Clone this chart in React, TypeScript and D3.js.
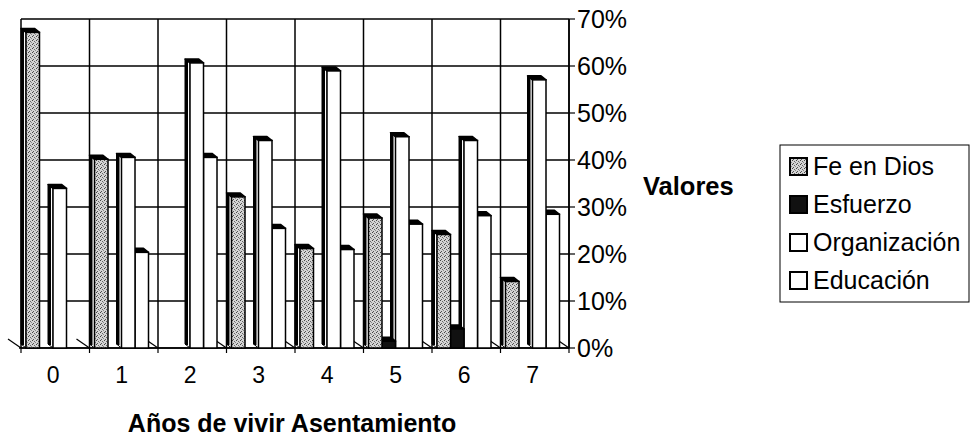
import React from "react";
import * as d3 from "d3";

const categories = ["0", "1", "2", "3", "4", "5", "6", "7"];
const seriesNames = ["Fe en Dios", "Esfuerzo", "Organización", "Educación"];
const feEnDios = [0.68, 0.41, 0, 0.33, 0.22, 0.285, 0.25, 0.15];
const esfuerzo = [0, 0, 0, 0, 0, 0.023, 0.049, 0];
const organizacion = [0.348, 0.414, 0.615, 0.45, 0.598, 0.458, 0.45, 0.579];
const educacion = [0, 0.212, 0.414, 0.263, 0.218, 0.272, 0.29, 0.293];
const yTicks = [0, 0.1, 0.2, 0.3, 0.4, 0.5, 0.6, 0.7];

const seriesValues = [feEnDios, esfuerzo, organizacion, educacion];
const FONT = "'Liberation Sans', Arial, Helvetica, sans-serif";

export default function App() {
  const x = d3.scaleBand().domain(categories).range([21, 569]).padding(0);
  const inner = d3.scaleBand().domain(seriesNames).range([5, 59]).padding(0);
  const y = d3.scaleLinear().domain([0, 0.7]).range([348, 19]);
  const fmt = d3.format(".0%");
  const bw = inner.bandwidth();
  const dx = 5;
  const dy = 4;
  const wallL = x.range()[0];
  const wallR = x.range()[1];
  const base = y(0);

  const fills = ["url(#stip)", "#111", "#fff", "#fff"];
  const sideFills = ["#fff", "#111", "#fff", "#fff"];

  const boundaries = categories.map((c) => x(c) as number).concat([wallR]);

  const bars: React.ReactNode[] = [];
  for (let ci = categories.length - 1; ci >= 0; ci--) {
    for (let si = seriesNames.length - 1; si >= 0; si--) {
      const v = seriesValues[si][ci];
      if (!v) continue;
      const fx = (x(categories[ci]) as number) + (inner(seriesNames[si]) as number);
      const topBack = y(v);
      const topFront = topBack + dy;
      const side = `M${fx},${topFront} L${fx - dx},${topBack} L${fx - dx},${base - dy} L${fx},${base} Z`;
      const top = `M${fx},${topFront} L${fx - dx},${topBack} L${fx + bw - dx},${topBack} L${fx + bw},${topFront} Z`;
      bars.push(
        <g key={`${ci}-${si}`}>
          <path d={side} fill={sideFills[si]} stroke="#000" strokeWidth={1} />
          <line x1={fx - dx + 1.5} x2={fx - dx + 1.5} y1={topBack} y2={base - dy + 1} stroke="#000" strokeWidth={3} />
          <path d={top} fill="#000" stroke="#000" strokeWidth={1.5} strokeLinejoin="round" />
          <rect x={fx} y={topFront} width={bw} height={base - topFront} fill={fills[si]} stroke="#000" strokeWidth={1.5} />
        </g>
      );
    }
  }

  const legendY = [175, 213, 251, 289];

  return (
    <svg width={971} height={437} style={{ position: "absolute", left: 0, top: 0, background: "#fff" }}>
      <defs>
        <pattern id="stip" width={4} height={4} patternUnits="userSpaceOnUse">
          <rect width={4} height={4} fill="#d4d4d4" />
          <rect x={0} y={0} width={1} height={1} fill="#444" />
          <rect x={2} y={1} width={1} height={1} fill="#666" />
          <rect x={1} y={3} width={1} height={1} fill="#555" />
          <rect x={3} y={2} width={1} height={1} fill="#888" />
        </pattern>
      </defs>
      <rect width={971} height={437} fill="#fff" />
      {yTicks.map((t) => (
        <line key={`h${t}`} x1={wallL} x2={wallR} y1={y(t)} y2={y(t)} stroke="#000" strokeWidth={1.5} />
      ))}
      {boundaries.map((b, i) => (
        <line key={`v${i}`} x1={b} x2={b} y1={y(0.7)} y2={base} stroke="#000" strokeWidth={1.5} />
      ))}
      <line x1={wallL - 2} x2={wallR} y1={base} y2={base} stroke="#000" strokeWidth={1.5} />
      {boundaries.map((b, i) => (
        <g key={`f${i}`}>
          <line x1={b - 13} y1={base - 9} x2={b} y2={base} stroke="#000" strokeWidth={1.2} />
          <line x1={b} y1={base} x2={b} y2={base + 5} stroke="#000" strokeWidth={1.2} />
        </g>
      ))}
      {bars}
      <line x1={wallR} x2={wallR} y1={y(0.7)} y2={base} stroke="#000" strokeWidth={1.5} />
      {yTicks.map((t) => (
        <g key={`t${t}`}>
          <line x1={wallR} x2={wallR + 6} y1={y(t)} y2={y(t)} stroke="#000" strokeWidth={1.2} />
          <text x={wallR + 8} y={y(t) + 9} fontFamily={FONT} fontSize={25} fill="#000">
            {fmt(t)}
          </text>
        </g>
      ))}
      {categories.map((c) => (
        <text key={`c${c}`} x={(x(c) as number) + x.bandwidth() / 2 - 2} y={383} fontFamily={FONT} fontSize={23} textAnchor="middle" fill="#000">
          {c}
        </text>
      ))}
      <text x={292} y={432} fontFamily={FONT} fontSize={25} fontWeight="bold" textAnchor="middle" fill="#000">
        Años de vivir Asentamiento
      </text>
      <text x={643} y={195} fontFamily={FONT} fontSize={25.5} fontWeight="bold" fill="#000">
        Valores
      </text>
      <rect x={780} y={145} width={189} height={157} fill="none" stroke="#000" strokeWidth={1} />
      {seriesNames.map((s, i) => (
        <g key={`l${s}`}>
          <rect x={790} y={legendY[i] - 17} width={17} height={17} fill={i === 0 ? "url(#stip)" : fills[i]} stroke="#000" strokeWidth={2} />
          <text x={813} y={legendY[i]} fontFamily={FONT} fontSize={25} fill="#000">
            {s}
          </text>
        </g>
      ))}
    </svg>
  );
}
